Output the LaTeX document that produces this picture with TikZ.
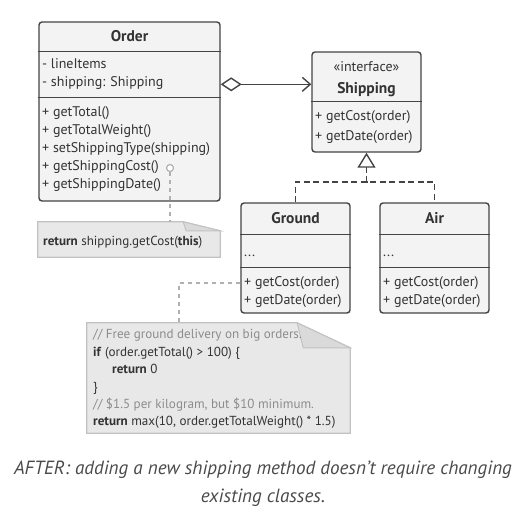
\documentclass[tikz,border=0pt]{standalone}
\usepackage{fontspec}
\setmainfont{PT Sans}
\usetikzlibrary{arrows.meta}
\definecolor{boxfill}{HTML}{F3F3F3}
\definecolor{boxline}{HTML}{444444}
\definecolor{txt}{HTML}{333333}
\definecolor{notefill}{HTML}{E8E8E8}
\definecolor{noteline}{HTML}{C2C2C2}
\definecolor{foldfill}{HTML}{DADADA}
\definecolor{cmt}{HTML}{8C8C8C}
\definecolor{linkgray}{HTML}{B0B0B0}
\definecolor{captxt}{HTML}{4A4A4A}
\tikzset{
  cls/.style={draw=boxline, line width=1.4pt, fill=boxfill, rounded corners=3pt, inner sep=0pt},
  div/.style={draw=boxline, line width=1.4pt},
  lbl/.style={anchor=west, inner sep=0pt, text=txt, font=\fontsize{14}{16}\selectfont, text height=10pt, text depth=3pt},
  ttl/.style={anchor=center, inner sep=0pt, text=txt, font=\fontsize{15.5}{18}\selectfont\bfseries, text height=11pt, text depth=3pt},
  stereo/.style={anchor=center, inner sep=0pt, text=txt, font=\fontsize{14}{16}\selectfont, text height=10pt, text depth=3pt},
  nlbl/.style={anchor=west, inner sep=0pt, text=txt, font=\fontsize{13.1}{15}\selectfont, text height=9pt, text depth=3pt},
  cmtlbl/.style={nlbl, text=cmt},
  notearea/.style={inner sep=0pt, draw=none},
  noteshape/.style={fill=notefill, draw=noteline, line width=1.2pt},
  foldshape/.style={fill=foldfill, draw=noteline, line width=1pt},
  notelink/.style={draw=linkgray, line width=1.3pt, dash pattern=on 4pt off 4pt},
  impl/.style={draw=boxline, line width=1.4pt, dash pattern=on 6pt off 3.5pt},
}
\begin{document}
\begin{tikzpicture}[x=1pt,y=-1pt]
\useasboundingbox (0,0) rectangle (528,531);

% ---------- Order ----------
\node[cls, minimum width=181pt, minimum height=179pt] (order) at (129.5,111.5) {};
\draw[div] ([yshift=-30pt]order.north west) -- ([yshift=-30pt]order.north east);
\draw[div] ([yshift=-76pt]order.north west) -- ([yshift=-76pt]order.north east);
\node[ttl] (ordert) at (129.5,37.5) {Order};
\node[lbl] (oa1) at (42,65) {- lineItems};
\node[lbl] (oa2) at (42,83) {- shipping: Shipping};
\node[lbl] (om1) at (42,113) {+ getTotal()};
\node[lbl] (om2) at (42,131) {+ getTotalWeight()};
\node[lbl] (om3) at (42,149) {+ setShippingType(shipping)};
\node[lbl] (om4) at (42,167) {+ getShippingCost()};
\node[lbl] (om5) at (42,185) {+ getShippingDate()};
\node[draw=linkgray, line width=1.2pt, circle, inner sep=0pt, minimum size=7pt, fill=white] (dot) at (170,168) {};

% ---------- Shipping ----------
\node[cls, minimum width=109pt, minimum height=100pt] (ship) at (366.5,102) {};
\draw[div] ([yshift=-50pt]ship.north west) -- ([yshift=-50pt]ship.north east);
\node[stereo] (shipst) at (366.5,68) {«interface»};
\node[ttl] (shipt) at (366.5,89) {Shipping};
\node[lbl] (sm1) at (315,117) {+ getCost(order)};
\node[lbl] (sm2) at (315,137) {+ getDate(order)};

% ---------- Ground ----------
\node[cls, minimum width=109pt, minimum height=110pt] (ground) at (295.5,258) {};
\draw[div] ([yshift=-32pt]ground.north west) -- ([yshift=-32pt]ground.north east);
\draw[div] ([yshift=-65pt]ground.north west) -- ([yshift=-65pt]ground.north east);
\node[ttl] (groundt) at (295.5,219.5) {Ground};
\node[lbl] (ga1) at (244,253) {...};
\node[lbl] (gm1) at (244,283) {+ getCost(order)};
\node[lbl] (gm2) at (244,301) {+ getDate(order)};

% ---------- Air ----------
\node[cls, minimum width=109pt, minimum height=110pt] (air) at (434.5,258) {};
\draw[div] ([yshift=-32pt]air.north west) -- ([yshift=-32pt]air.north east);
\draw[div] ([yshift=-65pt]air.north west) -- ([yshift=-65pt]air.north east);
\node[ttl] (airt) at (434.5,219.5) {Air};
\node[lbl] (aa1) at (383,253) {...};
\node[lbl] (am1) at (383,283) {+ getCost(order)};
\node[lbl] (am2) at (383,301) {+ getDate(order)};

% ---------- Note 1 ----------
\node[notearea, minimum width=182pt, minimum height=35pt] (note1) at (129,239.5) {};
\draw[noteshape] (note1.north west) -- ([xshift=-37pt]note1.north east) -- ([yshift=-9pt]note1.north east) -- (note1.south east) -- (note1.south west) -- cycle;
\draw[foldshape] ([xshift=-37pt]note1.north east) -- ([xshift=-34pt,yshift=-9pt]note1.north east) -- ([yshift=-9pt]note1.north east) -- cycle;
\node[nlbl] (n1t) at (43,242) {\textbf{return} shipping.getCost(\textbf{this})};

% ---------- Note 2 ----------
\node[notearea, minimum width=263pt, minimum height=110pt] (note2) at (218.5,378) {};
\draw[noteshape] (note2.north west) -- ([xshift=-53pt]note2.north east) -- ([yshift=-25pt]note2.north east) -- (note2.south east) -- (note2.south west) -- cycle;
\draw[foldshape] ([xshift=-53pt]note2.north east) -- ([xshift=-47pt,yshift=-25pt]note2.north east) -- ([yshift=-25pt]note2.north east) -- cycle;
\node[cmtlbl] (c1) at (93,335) {// Free ground delivery on big orders.};
\node[nlbl] (c2) at (93,353) {\textbf{if} (order.getTotal() > 100) \{};
\node[nlbl] (c3) at (112,370) {\textbf{return} 0};
\node[nlbl] (c4) at (93,388) {\}};
\node[cmtlbl] (c5) at (93,405) {// \$1.5 per kilogram, but \$10 minimum.};
\node[nlbl] (c6) at (93,422) {\textbf{return} max(10, order.getTotalWeight() * 1.5)};

% ---------- Connectors ----------
\draw[boxline, line width=1.4pt, {Diamond[open, fill=white, length=21pt, width=14pt]}-{Straight Barb[length=8pt, width=14pt, line width=1.4pt]}]
  ([yshift=-63pt]order.north east) -- ([yshift=-33pt]ship.north west);

\coordinate (junction) at (366.5,182);
\draw[impl] (ground.north) |- (junction) -| (air.north);
\draw[impl, -{Triangle[open, fill=white, length=15pt, width=18pt, line width=1.4pt]}] (junction) -- (ship.south);

\draw[notelink] (dot.south) -- (dot.south |- note1.north);
\coordinate (bend) at (179,283);
\draw[notelink] (ground.west |- gm1) -- (bend) -- (bend |- note2.north);

% ---------- Caption ----------
\node[anchor=center, inner sep=0pt, text=captxt, font=\fontsize{19.1}{22}\selectfont\itshape] (caption) at (263,470) {AFTER: adding a new shipping method doesn’t require changing};
\node[anchor=center, inner sep=0pt, text=captxt, font=\fontsize{19.1}{22}\selectfont\itshape] (caption2) at (263,498) {existing classes.};
\end{tikzpicture}
\end{document}
